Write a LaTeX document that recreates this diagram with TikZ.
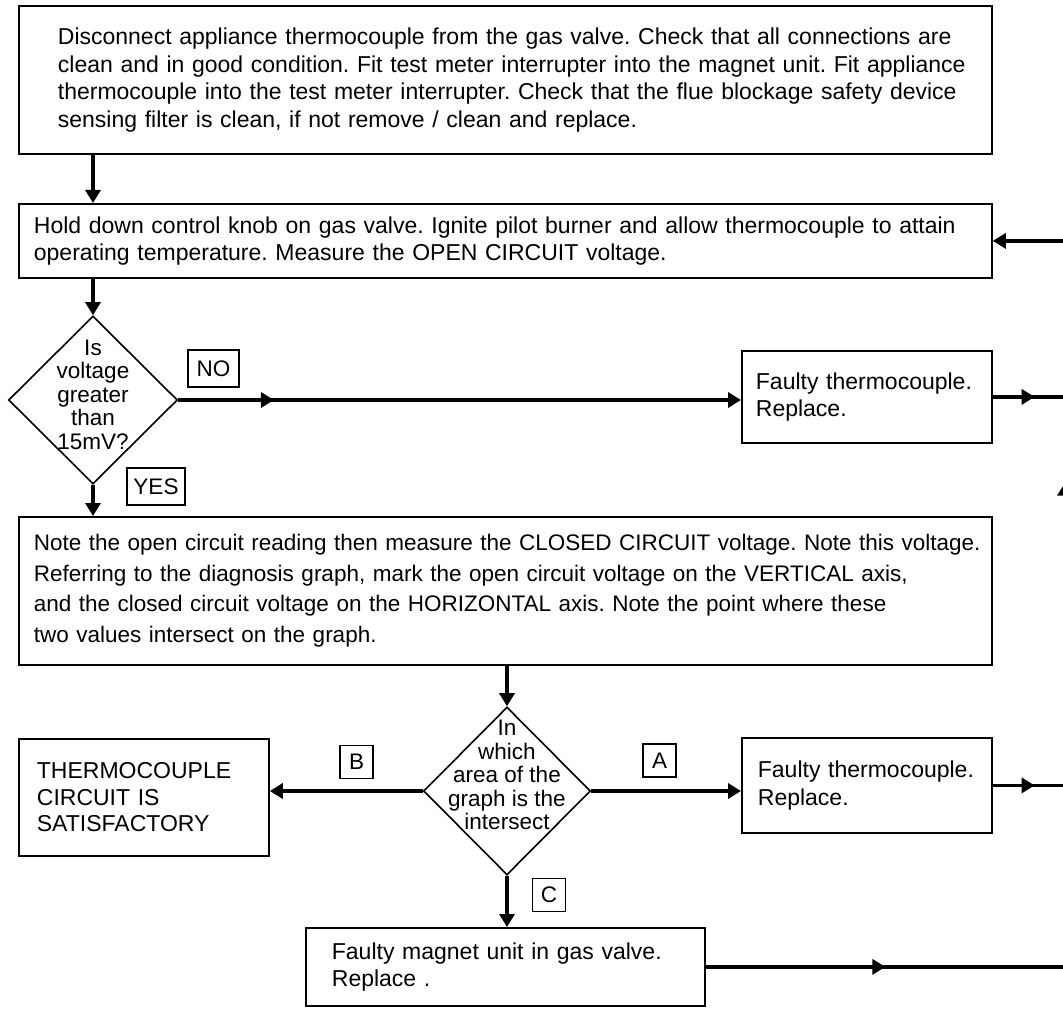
\documentclass[tikz,border=0pt]{standalone}
\usepackage{fontspec}
\setmainfont{Liberation Sans}
\usetikzlibrary{shapes.geometric, arrows.meta, decorations.markings}
\tikzstyle{process} = [
    rectangle, draw=black, line width=1.8pt,
    anchor=north west, align=left, inner ysep=0pt,
    font=\fontsize{23}{27.5}\selectfont]
\tikzstyle{decision} = [
    diamond, draw=black, line width=1.6pt,
    inner sep=0pt, minimum width=169pt, minimum height=168pt]
\tikzstyle{qtext} = [align=center, inner sep=0pt,
    font=\fontsize{22.5}{23.5}\selectfont]
\tikzstyle{answer} = [
    rectangle, draw=black, line width=1.3pt, inner sep=0pt,
    minimum width=33pt, minimum height=33pt,
    font=\fontsize{22.5}{27}\selectfont]
\tikzstyle{line} = [line width=3.6pt]
\tikzstyle{arrow} = [line, -{Triangle[length=13pt, width=15pt]}]
\tikzset{midarrow/.style={postaction={decorate, decoration={markings,
    mark=at position #1 with {\arrow{Triangle[length=13pt, width=15pt]}}}}}}

\begin{document}
\frenchspacing\hyphenpenalty=10000
\begin{tikzpicture}[x=1pt, y=-1pt]
  \useasboundingbox (0,0) rectangle (1063,1019);

  \node (b1) [process, text width=895pt, inner xsep=39pt, minimum height=148pt] at (18,5)
      {\mbox{Disconnect appliance thermocouple from the gas valve. Check that all connections are}\\
       \mbox{clean and in good condition. Fit test meter interrupter into the magnet unit. Fit appliance}\\
       \mbox{thermocouple into the test meter interrupter. Check that the flue blockage safety device}\\
       \mbox{sensing filter is clean, if not remove / clean and replace.}};
  \node (b2) [process, text width=943pt, inner xsep=15pt, minimum height=74pt] at (18,203)
      {\mbox{Hold down control knob on gas valve. Ignite pilot burner and allow thermocouple to attain}\\
       \mbox{operating temperature. Measure the OPEN CIRCUIT voltage.}};
  \node (q1) [decision, label={[qtext, name=q1txt, yshift=5.5pt]center:Is\\voltage\\greater\\than\\15mV?}]
      at (93,400) {};
  \node (b3) [process, text width=222pt, inner xsep=14pt, minimum height=92pt] at (741,350)
      {Faulty thermocouple.\\Replace.};
  \node (b4) [process, text width=943pt, inner xsep=15pt, minimum height=148pt,
      font=\fontsize{22.5}{30.5}\selectfont] at (18,516)
      {\mbox{Note the open circuit reading then measure the CLOSED CIRCUIT voltage. Note this voltage.}\\
       \mbox{Referring to the diagnosis graph, mark the open circuit voltage on the VERTICAL axis,}\\
       \mbox{and the closed circuit voltage on the HORIZONTAL axis. Note the point where these}\\
       \mbox{two values intersect on the graph.}};
  \node (q2) [decision, minimum width=167pt,
      label={[qtext, name=q2txt, yshift=16pt]center:In\\which\\area of the\\graph is the\\intersect}]
      at (507,791) {};
  \node (b5) [process, text width=214pt, inner xsep=18pt, minimum height=117pt,
      font=\fontsize{23}{26.5}\selectfont] at (18,738)
      {THERMOCOUPLE\\CIRCUIT IS\\SATISFACTORY};
  \node (b6) [process, text width=218pt, inner xsep=16pt, minimum height=95pt] at (741,737)
      {Faulty thermocouple.\\Replace.};
  \node (b7) [process, text width=347pt, inner xsep=26pt, minimum height=78pt] at (305,927)
      {Faulty magnet unit in gas valve.\\Replace .};

  % answer tags
  \node (no) [answer, minimum width=51pt, minimum height=37pt] at (213.5,368.5) {NO};
  \node (yes) [answer, minimum width=58pt, minimum height=37pt] at (156,486.5) {YES};
  \node (tagb) [answer] at (356.5,762) {B};
  \node (taga) [answer] at (659.5,760.5) {A};
  \node (tagc) [answer] at (549,895) {C};

  \coordinate (rail) at (1065,0);

  \draw [arrow] (b1.south -| q1.north) -- (b2.north -| q1.north);
  \draw [arrow] (b2.south -| q1.north) -- (q1.north);
  \draw [arrow, midarrow=0.17] (q1.east) -- (q1.east -| b3.west);
  \draw [arrow] (q1.south) -- (q1.south |- b4.north);
  \draw [arrow] (b4.south -| q2.north) -- (q2.north);
  \draw [arrow] (q2.west) -- (q2.west -| b5.east);
  \draw [arrow] (q2.east) -- (q2.east -| b6.west);
  \draw [arrow] (q2.south) -- (q2.south |- b7.north);

  % back to the pilot step
  \draw [line, midarrow=0.58] (b3.east) -- (b3.east -| rail);
  \draw [line, midarrow=0.58] (b6.east) -- (b6.east -| rail);
  \draw [line, midarrow=0.5] (b7.east) -- (b7.east -| rail);
  \draw [line, midarrow=0.667] (b7.east -| rail) -- (b2.east -| rail);
  \draw [arrow] (b2.east -| rail) -- (b2.east);

\end{tikzpicture}
\end{document}
